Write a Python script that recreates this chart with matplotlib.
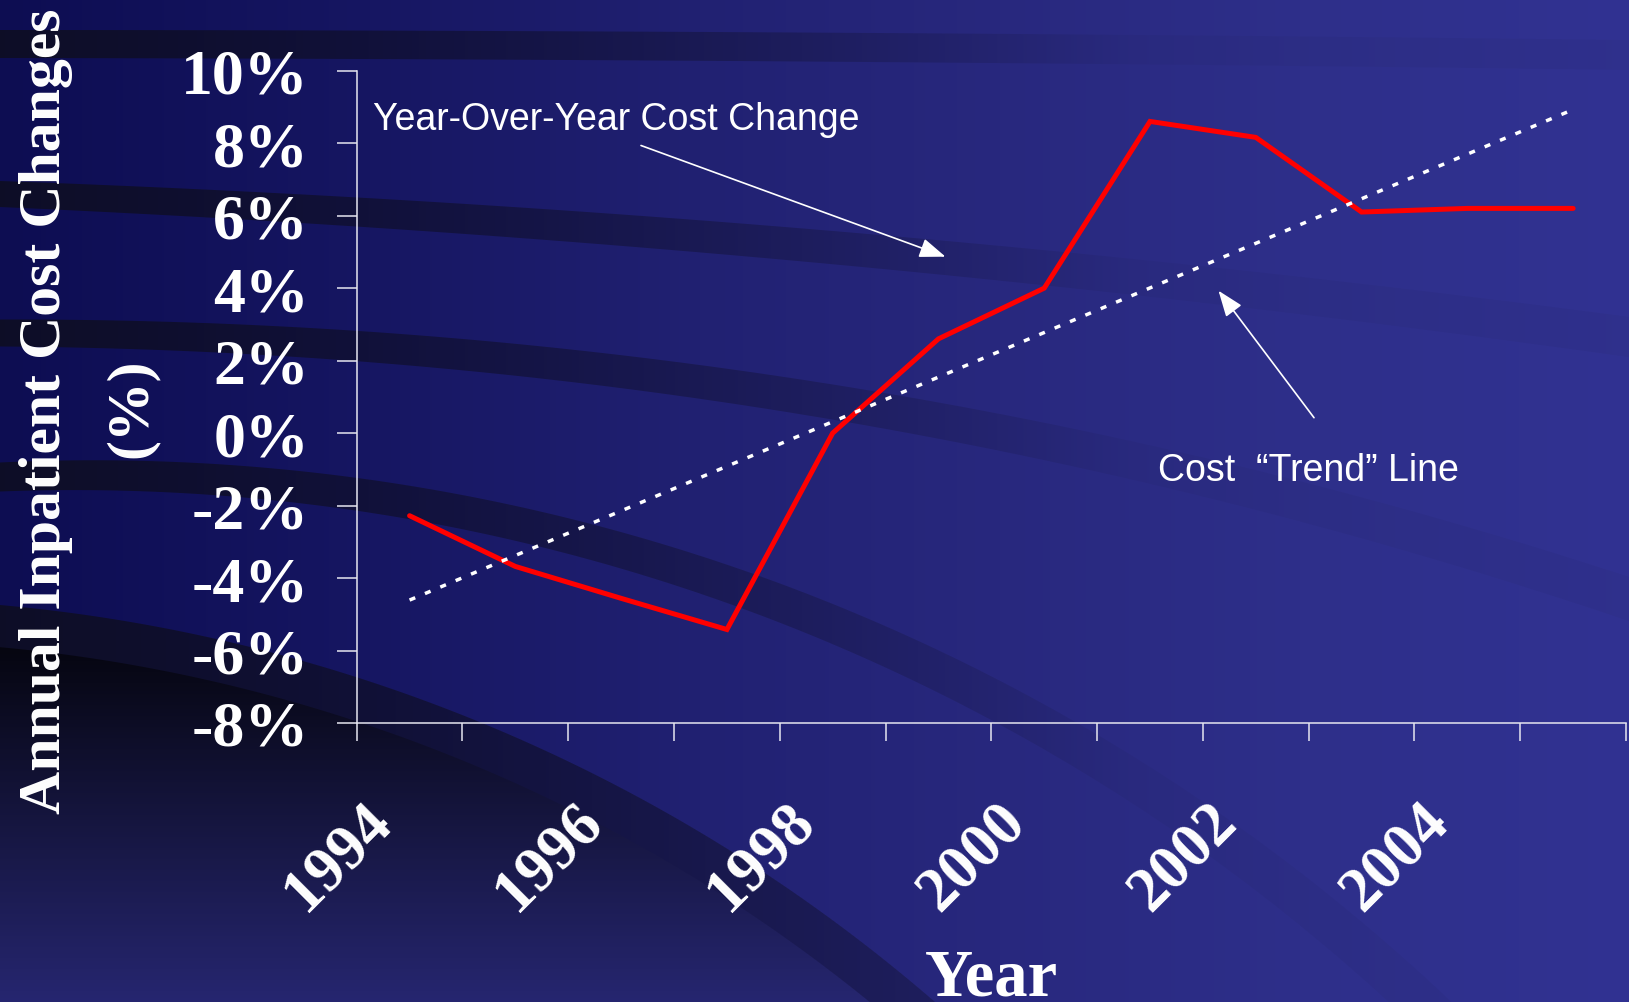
import numpy as np
import matplotlib
matplotlib.use("Agg")
import matplotlib.pyplot as plt

# ---- data -------------------------------------------------------------
years = [1994, 1995, 1996, 1997, 1998, 1999, 2000, 2001, 2002, 2003, 2004, 2005]
cost_change = [-2.28, -3.68, -4.56, -5.42, 0.0, 2.6, 4.0, 8.6, 8.16, 6.1, 6.2, 6.2]
y_ticks = [-8, -6, -4, -2, 0, 2, 4, 6, 8, 10]
y_tick_labels = [f"{v}%" for v in y_ticks]
year_labels = ["1994", "1996", "1998", "2000", "2002", "2004"]

# ---- canvas -----------------------------------------------------------
W, H, DPI = 1629, 1003, 100
fig = plt.figure(figsize=(W / DPI, H / DPI), dpi=DPI)

SERIF = "Liberation Serif"
SANS = "Liberation Sans"


def circle_through(p1, p2, p3):
    (x1, y1), (x2, y2), (x3, y3) = p1, p2, p3
    a = np.array([[x2 - x1, y2 - y1], [x3 - x1, y3 - y1]], float)
    b = 0.5 * np.array([x2**2 - x1**2 + y2**2 - y1**2,
                        x3**2 - x1**2 + y3**2 - y1**2])
    cx, cy = np.linalg.solve(a, b)
    return cx, cy, np.hypot(x1 - cx, y1 - cy)


# slide background: left-to-right navy gradient with dark sweeping arcs
yy, xx = np.mgrid[0:H, 0:W].astype(float) + 0.5
kx = [0, 370, 700, 1000, 1300, 1629]
base = np.stack([
    np.interp(xx, kx, [13, 22, 33, 40, 46, 49]),
    np.interp(xx, kx, [13, 22, 33, 40, 47, 50]),
    np.interp(xx, kx, [82, 98, 114, 126, 138, 146]),
], axis=-1)
img = base.copy()
dark = np.array([14, 14, 34], float)
fade = np.clip(0.9 - 0.00075 * xx, 0.05, 1.0)[..., None]

arcs = [
    ((0, 45), (800, 48), (1629, 56), 28, 30),
    ((0, 195), (935, 258), (1629, 338), 26, 40),
    ((0, 334), (1080, 450), (1629, 600), 27, 42),
    ((0, 478), (750, 593), (1420, 1003), 29, 45),
]
for p1, p2, p3, t0, t1 in arcs:
    cx, cy, r = circle_through(p1, p2, p3)
    d = np.hypot(xx - cx, yy - cy)
    half = 0.5 * (t0 + (t1 - t0) * xx / W)
    m = np.clip(half - np.abs(d - r) + 0.5, 0, 1)[..., None]
    img = img * (1 - fade * m) + dark * (fade * m)

# dark disc in the lower-left corner, with a lighter rim
cx, cy, r = circle_through((0, 606), (623, 790), (935, 1003))
d = np.hypot(xx - cx, yy - cy)
rim_fade = np.clip(0.9 - 0.0006 * xx, 0.1, 1.0)[..., None]
rim = np.clip(r - d + 0.5, 0, 1)[..., None]
img = img * (1 - rim_fade * rim) + dark * (rim_fade * rim)
inner = np.clip((r - 42) - d + 0.5, 0, 1)[..., None]
t = np.clip((yy - 640) / (1003 - 640), 0, 1)[..., None]
disc = np.array([5, 5, 14]) * (1 - t) + np.array([38, 38, 112]) * t
img = img * (1 - inner) + disc * inner

bg = fig.add_axes([0, 0, 1, 1])
bg.imshow(np.clip(img, 0, 255).astype(np.uint8), extent=(0, W, H, 0),
          aspect="auto", interpolation="bilinear")
bg.set_xlim(0, W)
bg.set_ylim(H, 0)
bg.set_axis_off()

# ---- chart ------------------------------------------------------------
left, right, top, bottom = 356.7, 1626.0, 71.7, 724.0
ax = fig.add_axes([left / W, 1 - bottom / H, (right - left) / W, (bottom - top) / H])
ax.patch.set_alpha(0)

x = np.arange(len(years))
ax.plot(x, cost_change, color="#ff0000", lw=3.6, zorder=3,
        solid_capstyle="round", solid_joinstyle="miter")

slope, intercept = np.polyfit(x, cost_change, 1)
xt = np.array([x[0], x[-1]], float)
ax.plot(xt, intercept + slope * xt, color="white", lw=2.5,
        dashes=(4.4 / 2.5, 7.6 / 2.5), zorder=4)

ax.set_xlim(-0.5, len(years) - 0.5)
ax.set_ylim(-8, 10)
ax.set_xticks(np.arange(-0.5, len(years), 1.0))
ax.set_xticklabels([])
ax.set_yticks(y_ticks)
ax.set_yticklabels(y_tick_labels, fontfamily=SERIF, fontweight="bold",
                   fontsize=46, color="white")

axis_col = "#e6e6f0"
ax.tick_params(axis="y", length=14.4, width=1.1, color=axis_col, pad=20)
ax.tick_params(axis="x", length=13, width=1.1, color=axis_col)
for s in ("top", "right"):
    ax.spines[s].set_visible(False)
for s in ("left", "bottom"):
    ax.spines[s].set_color(axis_col)
    ax.spines[s].set_linewidth(1.1)

for lab in year_labels:
    i = years.index(int(lab))
    ax.annotate(lab, xy=(i, 0), xycoords=("data", "axes fraction"),
                xytext=(-7, -69), textcoords="offset pixels",
                rotation=45, ha="right", va="top",
                fontfamily=SERIF, fontweight="bold", fontsize=45, color="white")

# axis titles
bg.text(60, 411, "Annual Inpatient Cost Changes", rotation=90,
        rotation_mode="anchor", ha="center", va="baseline",
        fontfamily=SERIF, fontweight="bold", fontsize=43, color="white")
bg.text(146, 408, "(%)", rotation=90, rotation_mode="anchor",
        ha="center", va="baseline",
        fontfamily=SERIF, fontweight="bold", fontsize=43, color="white")
bg.text(991, 996, "Year", ha="center", va="baseline",
        fontfamily=SERIF, fontweight="bold", fontsize=48, color="white")

# callouts
arrow = dict(arrowstyle="-|>,head_length=0.8,head_width=0.3", color="white",
             lw=1.2, mutation_scale=20, shrinkA=0, shrinkB=0)
bg.text(373, 130, "Year-Over-Year Cost Change", ha="left", va="baseline",
        fontfamily=SANS, fontsize=27, color="white")
bg.annotate("", xy=(945.5, 257.7), xytext=(641, 146.5), arrowprops=arrow)
bg.text(1158, 481, "Cost  \u201cTrend\u201d Line", ha="left", va="baseline",
        fontfamily=SANS, fontsize=27, color="white")
bg.annotate("", xy=(1218.5, 291.7), xytext=(1314, 418.7), arrowprops=arrow)

fig.savefig("out.png", dpi=DPI)
